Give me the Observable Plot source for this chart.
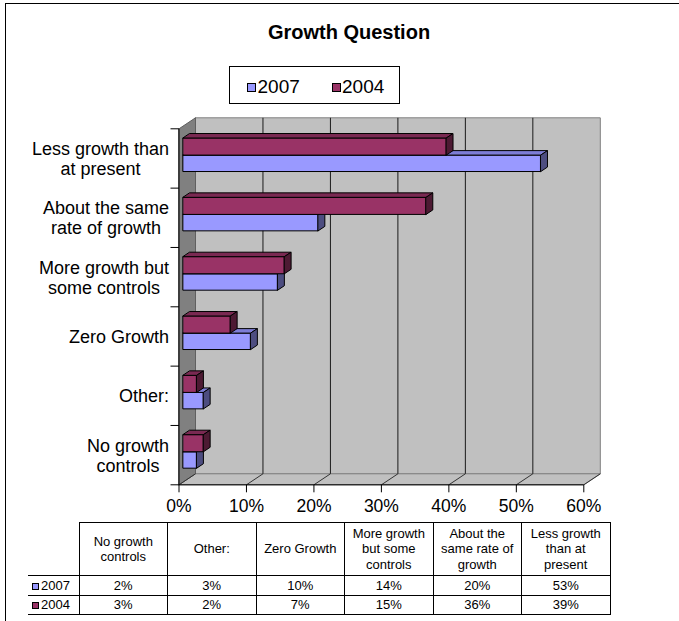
<!DOCTYPE html>
<html>
<head>
<meta charset="utf-8">
<script src="https://cdn.jsdelivr.net/npm/d3@7"></script>
<script src="https://cdn.jsdelivr.net/npm/@observablehq/plot@0.6"></script>
<style>
  html, body { margin: 0; padding: 0; background: #fff; }
  #wrap { position: relative; width: 679px; height: 621px; overflow: hidden;
          font-family: Arial, "Liberation Sans", sans-serif; color: #000; }
  #wrap svg { position: absolute; left: 0; top: 0; }
  #frame { position: absolute; left: 5px; top: 3px; width: 700px; height: 700px;
           border-left: 1px solid #000; border-top: 1px solid #000; pointer-events: none; }
  #title { position: absolute; left: 199px; top: 20px; width: 300px; text-align: center;
           font-weight: bold; font-size: 20px; line-height: 24px; }
  #legend { position: absolute; left: 229px; top: 66px; width: 171px; height: 38px;
            box-sizing: border-box; border: 1px solid #000; background: #fff; }
  .lg-item { position: absolute; top: 9px; font-size: 19px; line-height: 22px; white-space: nowrap; }
  .lg-sw { position: absolute; width: 9px; height: 9px; box-sizing: border-box; border: 1px solid #000; }
  #tbl { position: absolute; left: 28px; top: 522px; border-collapse: collapse; table-layout: fixed;
         font-size: 13px; line-height: 15.5px; }
  #tbl td { border: 1px solid #000; text-align: center; padding: 0; overflow: hidden; white-space: nowrap; }
  #tbl td.corner { border-top: none; border-left: none; }
  #tbl td.rl { border-left: none; text-align: left; padding-left: 4px; }
  #tbl .sw { display: inline-block; width: 7px; height: 7px; box-sizing: border-box; border: 1px solid #000;
             margin-right: 2px; vertical-align: 0px; }
</style>
</head>
<body>
<div id="wrap"></div>
<script>
// ---------------- data ----------------
const categories = ["No growth controls", "Other:", "Zero Growth", "More growth but some controls",
                    "About the same rate of growth", "Less growth than at present"];
const axisLabels = ["No growth\ncontrols", "Other:", "Zero Growth", "More growth but\nsome controls",
                    "About the same\nrate of growth", "Less growth than\nat present"];
const tableHeaders = ["No growth\ncontrols", "Other:", "Zero Growth", "More growth\nbut some\ncontrols",
                      "About the\nsame rate of\ngrowth", "Less growth\nthan at\npresent"];
const seriesNames = ["2007", "2004"];
const values2007 = [2, 3, 10, 14, 20, 53];
const values2004 = [3, 2, 7, 15, 36, 39];
const xTicks = [0, 10, 20, 30, 40, 50, 60];
const chartTitle = "Growth Question";

// ---------------- styles ----------------
const seriesColors = {
  "2007": {front: "#9999ff", top: "#7d7dd6", side: "#4d4d80"},
  "2004": {front: "#993366", top: "#7a2952", side: "#4d1a33"}
};
const wallColor = "#c0c0c0", sideWallColor = "#808080";

// ---------------- geometry (pixel frame) ----------------
const W = 679, H = 621;
const X0 = 178.5, X60 = 583.3, Y0 = 484.3, Y6 = 128.3;
const pxX = (X60 - X0) / 60, pxY = (Y0 - Y6) / 6;
const wallDX = 16.5 / pxX, wallDY = 11 / pxY;     // full depth offset in data units
const barFront = 0.255, barBack = 0.661;           // depth fractions of bar faces
const barBand = {"2004": [0.557, 0.845], "2007": [0.28, 0.557]};

// ---------------- polygons built from data ----------------
const wallPolys = [];
function addPoly(arr, id, pts, fill, stroke) {
  pts.forEach(([x, y]) => arr.push({id, x, y, fill, stroke}));
}
addPoly(wallPolys, "back", [[wallDX, wallDY], [60 + wallDX, wallDY], [60 + wallDX, 6 + wallDY], [wallDX, 6 + wallDY]], wallColor, "#808080");
addPoly(wallPolys, "floor", [[0, 0], [60, 0], [60 + wallDX, wallDY], [wallDX, wallDY]], wallColor, "#808080");
addPoly(wallPolys, "left", [[0, 0], [wallDX, wallDY], [wallDX, 6 + wallDY], [0, 6]], sideWallColor, "#606060");

const barPolys = [];
const xs = barFront * wallDX;
const ddx = (barBack - barFront) * wallDX, ddy = (barBack - barFront) * wallDY;
const seriesValues = {"2007": values2007, "2004": values2004};
categories.forEach((c, i) => {
  seriesNames.forEach(s => {   // 2007 drawn first, 2004 over it
    const v = seriesValues[s][i];
    const col = seriesColors[s];
    const y0 = i + barBand[s][0], y1 = i + barBand[s][1];
    const xe = v + xs;
    addPoly(barPolys, `${s}-${i}-front`, [[xs, y0], [xe, y0], [xe, y1], [xs, y1]], col.front, "#000");
    addPoly(barPolys, `${s}-${i}-top`, [[xs, y1], [xe, y1], [xe + ddx, y1 + ddy], [xs + ddx, y1 + ddy]], col.top, "#000");
    addPoly(barPolys, `${s}-${i}-side`, [[xe, y0], [xe + ddx, y0 + ddy], [xe + ddx, y1 + ddy], [xe, y1]], col.side, "#000");
  });
});

const catIdx = d3.range(categories.length);
const bounds = d3.range(categories.length + 1);

const plot = Plot.plot({
  width: W, height: H,
  marginLeft: X0, marginRight: W - X60, marginTop: Y6, marginBottom: H - Y0,
  x: {domain: [0, 60], axis: null},
  y: {domain: [0, 6], axis: null},
  color: {type: "identity"},
  style: {fontFamily: "Arial, 'Liberation Sans', sans-serif", background: "transparent", overflow: "visible", color: "#000"},
  marks: [
    Plot.line(wallPolys, {x: "x", y: "y", z: "id", fill: "fill", stroke: "stroke", curve: "linear-closed", strokeWidth: 1}),
    // back wall gridlines
    Plot.link(xTicks.slice(1, -1), {x1: d => d + wallDX, x2: d => d + wallDX, y1: wallDY, y2: 6 + wallDY, stroke: "#1a1a1a", strokeWidth: 1}),
    // floor gridlines
    Plot.link(xTicks, {x1: d => d, y1: 0, x2: d => d + wallDX, y2: wallDY, stroke: "#333", strokeWidth: 1}),
    // axes
    Plot.link([{x1: 0, y1: 0, x2: 0, y2: 6}, {x1: 0, y1: 0, x2: 60, y2: 0}], {x1: "x1", y1: "y1", x2: "x2", y2: "y2", stroke: "#000", strokeWidth: 1}),
    Plot.link(bounds, {x1: -8.5 / pxX, x2: 0, y1: d => d, y2: d => d, stroke: "#000", strokeWidth: 1}),
    Plot.link(xTicks, {x1: d => d, x2: d => d, y1: 0, y2: -7.5 / pxY, stroke: "#000", strokeWidth: 1}),
    // bars
    Plot.line(barPolys, {x: "x", y: "y", z: "id", fill: "fill", stroke: "stroke", curve: "linear-closed", strokeWidth: 1, strokeLinejoin: "miter"}),
    // tick labels
    Plot.text(xTicks, {x: d => d, y: 0, text: d => `${d}%`, dy: 21.4, fontSize: 17.5, lineAnchor: "middle", fill: "#000"}),
    // category labels
    Plot.text(catIdx, {x: 0, y: d => d + 0.5, text: d => axisLabels[d], textAnchor: "end", dx: -10,
                       fontSize: 18, lineHeight: 20 / 18, lineAnchor: "middle", fill: "#000"})
  ]
});

const wrap = document.getElementById("wrap");
wrap.appendChild(plot);

// center multi-line category labels within their block (block right-aligned)
plot.querySelectorAll("text").forEach(t => {
  const spans = t.querySelectorAll("tspan");
  if (spans.length < 2) return;
  const w = Math.max(...Array.from(spans, s => s.getComputedTextLength()));
  t.setAttribute("text-anchor", "middle");
  spans.forEach(s => s.setAttribute("x", -w / 2));
});

// title
const title = document.createElement("div");
title.id = "title";
title.textContent = chartTitle;
wrap.appendChild(title);

// legend
const legend = document.createElement("div");
legend.id = "legend";
const lgPos = [{sw: 17, tx: 27.5}, {sw: 101.5, tx: 112}];
seriesNames.forEach((s, k) => {
  const sw = document.createElement("div");
  sw.className = "lg-sw";
  sw.style.left = lgPos[k].sw + "px";
  sw.style.top = "15.5px";
  sw.style.background = seriesColors[s].front;
  legend.appendChild(sw);
  const tx = document.createElement("div");
  tx.className = "lg-item";
  tx.style.left = lgPos[k].tx + "px";
  tx.textContent = s;
  legend.appendChild(tx);
});
wrap.appendChild(legend);

// data table
const tbl = document.createElement("table");
tbl.id = "tbl";
const cg = document.createElement("colgroup");
[51, 88.5, 88.5, 88.5, 88.5, 88.5, 88.5].forEach(w => {
  const c = document.createElement("col"); c.style.width = w + "px"; cg.appendChild(c);
});
tbl.appendChild(cg);
const hr = document.createElement("tr");
hr.style.height = "53px";
const corner = document.createElement("td"); corner.className = "corner"; hr.appendChild(corner);
tableHeaders.forEach(h => {
  const td = document.createElement("td");
  td.innerHTML = h.split("\n").join("<br>");
  hr.appendChild(td);
});
tbl.appendChild(hr);
const rowHeights = {"2007": "20px", "2004": "19px"};
seriesNames.forEach(s => {
  const tr = document.createElement("tr");
  tr.style.height = rowHeights[s];
  const td0 = document.createElement("td");
  td0.className = "rl";
  td0.innerHTML = `<span class="sw" style="background:${seriesColors[s].front}"></span>${s}`;
  tr.appendChild(td0);
  seriesValues[s].forEach(v => {
    const td = document.createElement("td");
    td.textContent = `${v}%`;
    tr.appendChild(td);
  });
  tbl.appendChild(tr);
});
wrap.appendChild(tbl);

const frame = document.createElement("div");
frame.id = "frame";
wrap.appendChild(frame);
</script>
</body>
</html>
